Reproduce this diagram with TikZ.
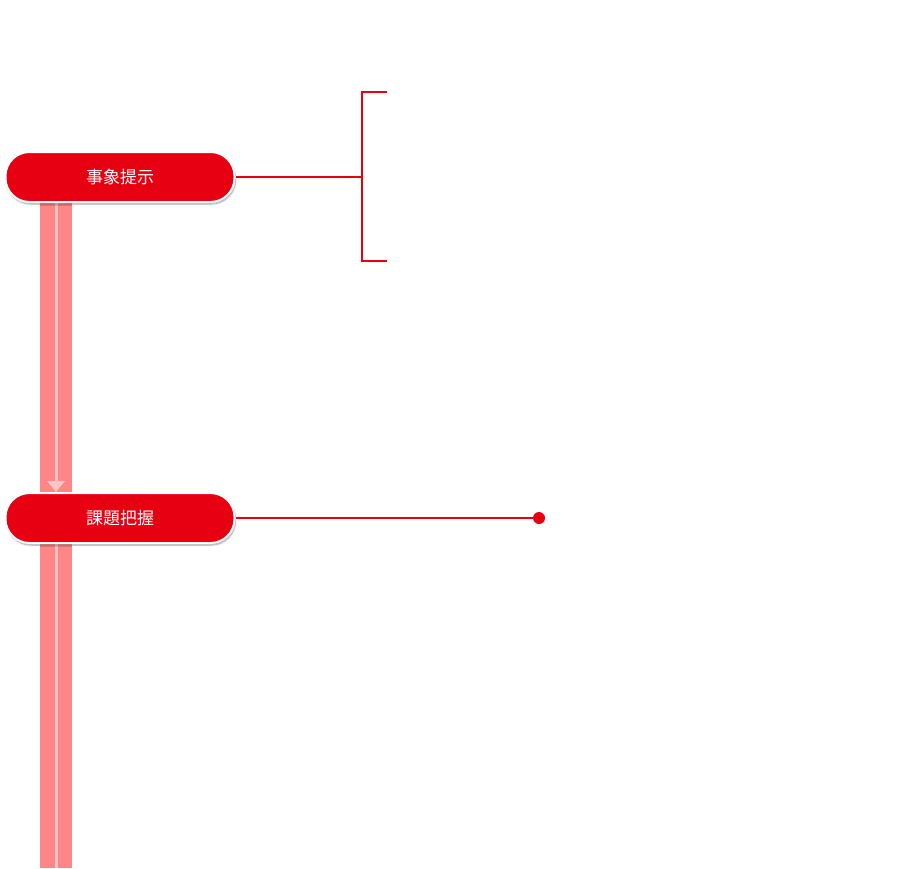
\documentclass[tikz,border=0pt]{standalone}
\usepackage{fontspec}
\newfontfamily\cjk{Noto Sans CJK JP}
\usetikzlibrary{arrows.meta, shadows.blur}
\definecolor{stepRed}{RGB}{230, 0, 18}
\definecolor{barPink}{RGB}{255, 134, 134}
\definecolor{stripePink}{RGB}{255, 196, 196}

\begin{document}
\begin{tikzpicture}[
    x=1pt, y=-1pt,
    font=\cjk\fontsize{17}{20}\selectfont,
    % pill-shaped step labels
    stepbox/.style={
        draw=white,
        line width=2pt,
        fill=stepRed,
        text=white,
        rounded corners=24pt,
        minimum width=229pt,
        minimum height=50pt,
        inner sep=0pt,
        blur shadow={shadow blur steps=5, shadow xshift=1pt, shadow yshift=-2pt}
    },
    % connector lines
    link/.style={stepRed, line width=1.4pt}
]
    \useasboundingbox (0,0) rectangle (920,868);

    % --- flow bar ---
    \fill[barPink] (40,201) rectangle (72,868);
    \fill[stripePink] (54.5,201) rectangle (57.5,482);
    \fill[stripePink] (54.5,542) rectangle (57.5,868);
    \fill[stripePink] (47,481) -- (65,481) -- (56,492) -- cycle;

    % --- steps ---
    \node[stepbox] (event) at (120,177) {事象提示};
    \node[stepbox] (issue) at (120,518) {課題把握};

    % --- bracket for first step ---
    \coordinate (brace_mid) at (362,177);
    \coordinate (brace_top) at (387,92);
    \coordinate (brace_bot) at (387,261);
    \draw[link] (event.east) -- (brace_mid);
    \draw[link] (brace_top) -- (brace_top -| brace_mid) -- (brace_bot -| brace_mid) -- (brace_bot);

    % --- dot for second step ---
    \node[circle, fill=stepRed, minimum size=12pt, inner sep=0pt] (issue_dot) at (539,518) {};
    \draw[link] (issue.east) -- (issue_dot);
\end{tikzpicture}
\end{document}
